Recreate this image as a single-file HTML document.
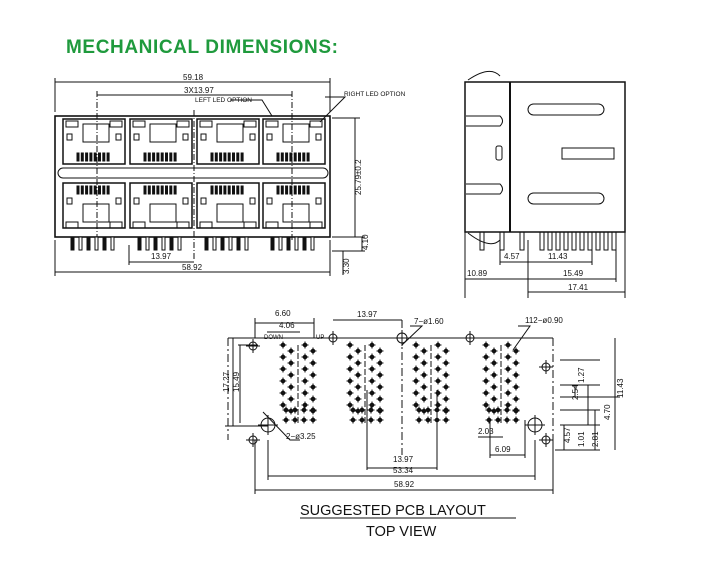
<!DOCTYPE html>
<html><head><meta charset="utf-8"><style>
html,body{margin:0;padding:0;background:#fff;width:709px;height:567px;overflow:hidden}
svg{display:block}
text{font-family:"Liberation Sans",sans-serif;fill:#111}
</style></head><body>
<svg id="s" width="709" height="567" viewBox="0 0 709 567" xmlns="http://www.w3.org/2000/svg">
<text x="66" y="53" style="font-size:19px;font-weight:bold;fill:#1f9a3d;letter-spacing:0.6px">MECHANICAL DIMENSIONS:</text>
<g stroke="#111" fill="none" stroke-width="1">
<rect x="55" y="116" width="275" height="121" stroke-width="1.6"/>
<rect x="58" y="168" width="270" height="10" rx="5"/>
<line x1="55" y1="82" x2="330" y2="82"/><line x1="55" y1="78" x2="55" y2="112"/><line x1="330" y1="78" x2="330" y2="112"/>
<line x1="97" y1="95" x2="292" y2="95"/><line x1="97" y1="91" x2="97" y2="240" stroke-dasharray="6,2,1,2"/><line x1="292" y1="91" x2="292" y2="240" stroke-dasharray="6,2,1,2"/>
<line x1="194" y1="110" x2="194" y2="260" stroke-dasharray="6,2,1,2"/>
<line x1="129" y1="262" x2="194" y2="262"/><line x1="129" y1="245" x2="129" y2="265"/>
<line x1="55" y1="272" x2="330" y2="272"/><line x1="55" y1="240" x2="55" y2="276"/><line x1="330" y1="240" x2="330" y2="276"/>
<line x1="332" y1="118" x2="360" y2="118"/><line x1="332" y1="237" x2="365" y2="237"/><line x1="355" y1="118" x2="355" y2="237"/>
<line x1="332" y1="251" x2="365" y2="251"/><line x1="362" y1="237" x2="362" y2="251"/><line x1="343" y1="251" x2="343" y2="275"/>
<path d="M230 100 L262 100 L272 116"/><path d="M325 97 L345 97 L320 122"/>
<rect x="465" y="82" width="160" height="150" stroke-width="1.5"/>
<line x1="510" y1="82" x2="510" y2="232" stroke-width="2"/>
<path d="M468 80 Q490 65 500 76"/><path d="M468 233 Q490 250 500 240"/>
<rect x="528" y="104" width="76" height="11" rx="5.5"/><rect x="562" y="148" width="52" height="11"/><rect x="528" y="193" width="76" height="11" rx="5.5"/>
<path d="M466 116 L500 116 Q505 121 500 126 L466 126"/><path d="M466 184 L500 184 Q505 189 500 194 L466 194"/>
<rect x="496" y="146" width="6" height="14" rx="2"/>
<line x1="465" y1="232" x2="465" y2="298"/><line x1="528" y1="240" x2="528" y2="298"/><line x1="625" y1="232" x2="625" y2="298"/>
<line x1="500" y1="262" x2="592" y2="262"/><line x1="500" y1="245" x2="500" y2="265"/><line x1="592" y1="245" x2="592" y2="265"/>
<line x1="465" y1="279" x2="616" y2="279"/><line x1="616" y1="245" x2="616" y2="282"/>
<line x1="528" y1="292" x2="625" y2="292"/>
<line x1="228" y1="338" x2="553" y2="338"/>
<line x1="228" y1="338" x2="228" y2="440" stroke-dasharray="8,3,2,3"/>
<line x1="553" y1="338" x2="553" y2="440" stroke-dasharray="8,3,2,3"/>
<line x1="255" y1="318" x2="255" y2="338"/><line x1="314" y1="318" x2="314" y2="338"/><line x1="255" y1="323" x2="314" y2="323"/>
<line x1="267" y1="332" x2="300" y2="332"/>
<line x1="333" y1="320" x2="402" y2="320"/><line x1="402" y1="320" x2="402" y2="455" stroke-dasharray="8,3,2,3"/>
<line x1="233" y1="338" x2="233" y2="426"/><line x1="238" y1="345" x2="258" y2="345"/><line x1="240" y1="345" x2="240" y2="423"/><line x1="225" y1="426" x2="268" y2="426"/>
<line x1="367" y1="468" x2="437" y2="468"/><line x1="367" y1="390" x2="367" y2="470"/><line x1="437" y1="390" x2="437" y2="470"/>
<line x1="268" y1="476" x2="535" y2="476"/><line x1="268" y1="440" x2="268" y2="480"/><line x1="535" y1="440" x2="535" y2="480"/>
<line x1="255" y1="490" x2="553" y2="490"/><line x1="255" y1="440" x2="255" y2="494"/><line x1="553" y1="440" x2="553" y2="494"/>
<line x1="490" y1="455" x2="525" y2="455"/><line x1="490" y1="420" x2="490" y2="458"/><line x1="525" y1="420" x2="525" y2="458"/>
<line x1="478" y1="437" x2="503" y2="437"/>
<line x1="560" y1="360" x2="600" y2="360"/><line x1="560" y1="385" x2="600" y2="385"/><line x1="560" y1="397" x2="620" y2="397"/><line x1="560" y1="425" x2="600" y2="425"/><line x1="555" y1="450" x2="600" y2="450"/><line x1="560" y1="410" x2="600" y2="410"/>
<line x1="575" y1="385" x2="575" y2="397"/><line x1="588" y1="385" x2="588" y2="425"/><line x1="595" y1="410" x2="595" y2="450"/><line x1="564" y1="425" x2="564" y2="450"/>
<line x1="615" y1="338" x2="615" y2="450"/>
<path d="M410 326 L422 326 L402 345"/><path d="M518 326 L530 326 L513 350"/><path d="M263 412 L290 440 L300 440"/>
<line x1="300" y1="518" x2="516" y2="518"/>
</g>
<g id="dyn" stroke="#111" fill="none" stroke-width="1"></g>
<g style="font-size:8px">
<text x="183" y="80">59.18</text><text x="184" y="93">3X13.97</text>
<text x="195" y="102" style="font-size:6.5px">LEFT LED OPTION</text><text x="344" y="96" style="font-size:6.5px">RIGHT LED OPTION</text>
<text x="151" y="259">13.97</text><text x="182" y="270">58.92</text>
<text transform="translate(361,195) rotate(-90)">25.79±0.2</text>
<text transform="translate(368,250) rotate(-90)">4.10</text><text transform="translate(349,274) rotate(-90)">3.30</text>
<text x="504" y="259">4.57</text><text x="548" y="259">11.43</text><text x="467" y="276">10.89</text><text x="563" y="276">15.49</text><text x="568" y="290">17.41</text>
<text x="275" y="316">6.60</text><text x="279" y="328">4.06</text><text x="357" y="317">13.97</text><text x="414" y="324">7−ø1.60</text><text x="525" y="323">112−ø0.90</text>
<text x="264" y="339" style="font-size:6px">DOWN</text><text x="316" y="339" style="font-size:6px">UP</text>
<text transform="translate(229,392) rotate(-90)">17.27</text><text transform="translate(239,392) rotate(-90)">15.49</text>
<text x="286" y="439">2−ø3.25</text><text x="393" y="462">13.97</text><text x="393" y="473">53.34</text><text x="394" y="487">58.92</text>
<text x="478" y="434">2.03</text><text x="495" y="452">6.09</text>
<text transform="translate(584,383) rotate(-90)">1.27</text><text transform="translate(578,400) rotate(-90)">2.54</text><text transform="translate(610,420) rotate(-90)">4.70</text><text transform="translate(623,398) rotate(-90)">11.43</text>
<text transform="translate(570,443) rotate(-90)">4.57</text><text transform="translate(584,447) rotate(-90)">1.01</text><text transform="translate(598,447) rotate(-90)">2.81</text>
</g>
<text x="300" y="515" style="font-size:14.5px">SUGGESTED PCB LAYOUT</text>
<text x="366" y="536" style="font-size:14.5px">TOP VIEW</text>
</svg>
<script>
var g=document.getElementById('dyn'),N='http://www.w3.org/2000/svg';
function e(t,a){var x=document.createElementNS(N,t);for(var k in a)x.setAttribute(k,a[k]);g.appendChild(x);return x}
var cols=[63,130,197,263];
cols.forEach(function(x){
 e('rect',{x:x,y:119,width:62,height:45,'stroke-width':1.5});
 e('rect',{x:x+20,y:124,width:26,height:18});
 e('rect',{x:x+3,y:121,width:12,height:6});e('rect',{x:x+47,y:121,width:12,height:6});
 e('rect',{x:x+4,y:134,width:5,height:6});e('rect',{x:x+53,y:134,width:5,height:6});
 for(var i=0;i<8;i++)e('rect',{x:x+14+i*4.3,y:153,width:2,height:8,fill:'#111'});
 e('rect',{x:x,y:183,width:62,height:45,'stroke-width':1.5});
 e('rect',{x:x+20,y:204,width:26,height:18});
 e('rect',{x:x+3,y:222,width:12,height:6});e('rect',{x:x+47,y:222,width:12,height:6});
 e('rect',{x:x+4,y:198,width:5,height:6});e('rect',{x:x+53,y:198,width:5,height:6});
 for(var i=0;i<8;i++)e('rect',{x:x+14+i*4.3,y:186,width:2,height:8,fill:'#111'});
 for(var i=0;i<6;i++)e('rect',{x:x+8+i*8,y:237,width:3,height:13,fill:i%2?'#fff':'#111'});
});
[480,500,520,540,548,556,564,572,580,588,596,604,612].forEach(function(x){e('rect',{x:x,y:232,width:4,height:18})});
function pin(x,y){e('circle',{cx:x,cy:y,r:1.8,fill:'#111'});e('line',{x1:x-3.5,y1:y,x2:x+3.5,y2:y});e('line',{x1:x,y1:y-3.5,x2:x,y2:y+3.5});}
function hole(x,y,r){e('circle',{cx:x,cy:y,r:r});e('line',{x1:x-r-3,y1:y,x2:x+r+3,y2:y});e('line',{x1:x,y1:y-r-3,x2:x,y2:y+r+3});}
var blocks=[283,350,416,486];
blocks.forEach(function(bx,bi){
 for(var r=0;r<6;r++){var y=345+r*12;pin(bx,y);pin(bx+8,y+6);pin(bx+22,y);pin(bx+30,y+6);}
 for(var i=0;i<4;i++){pin(bx+3+i*9,410);pin(bx+3+i*9,420);}
 e('line',{x1:bx+15,y1:345,x2:bx+15,y2:425,'stroke-dasharray':'6,2'});
});
hole(333,338,4);hole(402,338,5);hole(470,338,4);hole(253,346,4);hole(253,440,4);hole(546,367,4);hole(546,440,4);
hole(268,425,7);hole(535,425,7);
</script>
</body></html>
